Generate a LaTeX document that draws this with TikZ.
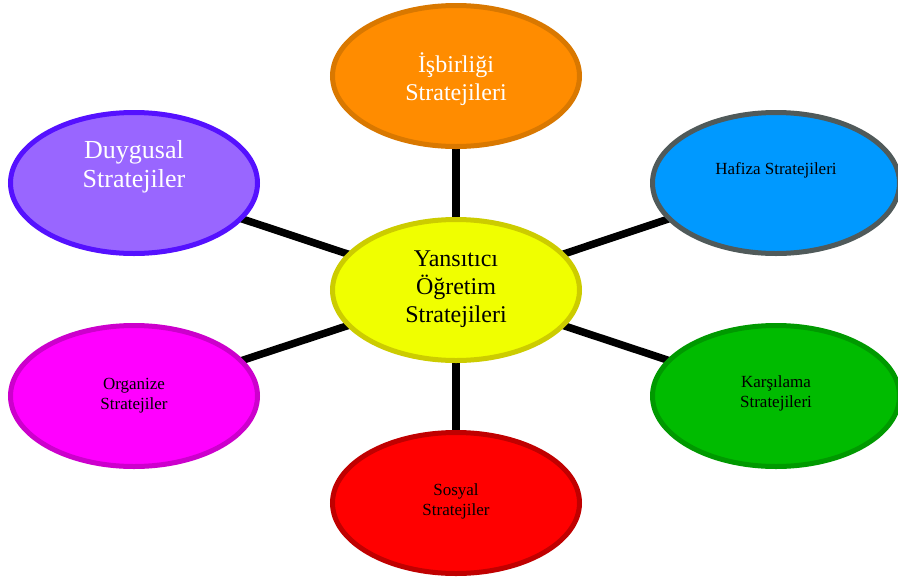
\documentclass[tikz,border=0pt]{standalone}
\usepackage{fontspec}
\setmainfont{Liberation Serif}
\usetikzlibrary{shapes.geometric,backgrounds}
\definecolor{orfill}{HTML}{FF8C00}
\definecolor{ordraw}{HTML}{D97800}
\definecolor{yefill}{HTML}{F0FF00}
\definecolor{yedraw}{HTML}{CCCC00}
\definecolor{pufill}{HTML}{9966FF}
\definecolor{pudraw}{HTML}{5511FF}
\definecolor{blfill}{HTML}{0099FF}
\definecolor{bldraw}{HTML}{505A5A}
\definecolor{mafill}{HTML}{FF00FF}
\definecolor{madraw}{HTML}{CC00CC}
\definecolor{grfill}{HTML}{00BB00}
\definecolor{grdraw}{HTML}{009900}
\definecolor{refill}{HTML}{FF0000}
\definecolor{redraw}{HTML}{C00000}
\newcommand{\lift}[2]{\raisebox{#1}[\height][\depth]{\begin{tabular}{@{}c@{}}#2\end{tabular}}}
\tikzset{
  bubble/.style={ellipse, line width=5pt, inner sep=0pt, minimum width=247pt, minimum height=141pt},
  bigtxt/.style={font=\fontsize{24}{28}\selectfont},
  hugetxt/.style={font=\fontsize{26}{29}\selectfont},
  smalltxt/.style={font=\fontsize{17}{20}\selectfont},
  link/.style={line width=7.5pt, black}
}
\begin{document}
\begin{tikzpicture}[x=1pt,y=-1pt]
\useasboundingbox (0,0) rectangle (898,579);
\node[bubble, fill=yefill, draw=yedraw, bigtxt, text=black] (c) at (456,290) {\lift{1pt}{Yansıtıcı\\Öğretim\\Stratejileri}};
\node[bubble, fill=orfill, draw=ordraw, bigtxt, text=white] (t) at (456,76) {\lift{-5pt}{İşbirliği\\Stratejileri}};
\node[bubble, fill=pufill, draw=pudraw, hugetxt, text=white] (d) at (134,183) {\lift{16pt}{Duygusal\\Stratejiler}};
\node[bubble, fill=blfill, draw=bldraw, smalltxt, text=black] (h) at (776,183) {\lift{13pt}{Hafiza Stratejileri}};
\node[bubble, fill=mafill, draw=madraw, smalltxt, text=black] (o) at (134,396) {\lift{1pt}{Organize\\Stratejiler}};
\node[bubble, fill=grfill, draw=grdraw, smalltxt, text=black] (k) at (776,396) {\lift{3pt}{Karşılama\\Stratejileri}};
\node[bubble, fill=refill, draw=redraw, smalltxt, text=black] (s) at (456,503) {\lift{2pt}{Sosyal\\Stratejiler}};
\begin{scope}[on background layer]
\foreach \n in {t,d,h,o,k,s} \draw[link] (c.center) -- (\n.center);
\end{scope}
\end{tikzpicture}
\end{document}
